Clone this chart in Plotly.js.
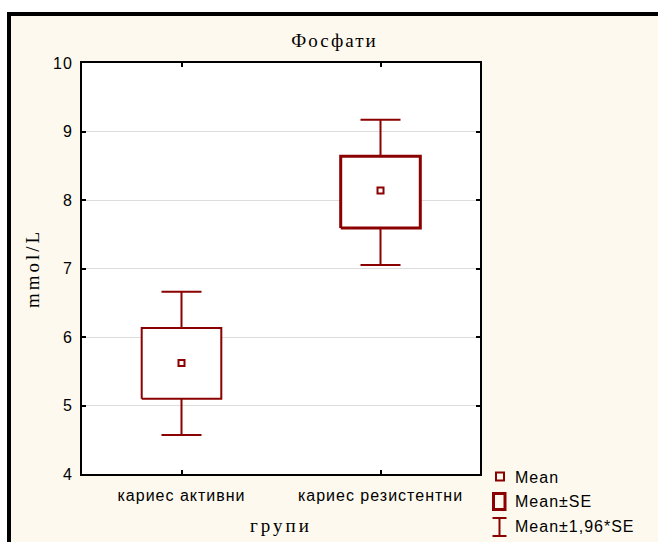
<!DOCTYPE html>
<html>
<head>
<meta charset="utf-8">
<script src="https://cdn.plot.ly/plotly-3.0.1.min.js"></script>
<style>
  html, body { margin: 0; padding: 0; background: #ffffff; overflow: hidden; }
  #frame { position: absolute; left: 7px; top: 12px; width: 720px; height: 620px;
           background: #fdf9ee; border-left: 4px solid #000; border-top: 4px solid #000; }
  #chart { position: absolute; left: 0; top: 0; width: 658px; height: 542px; }
  svg text { letter-spacing: 1px; }
  .gtitle { letter-spacing: 2px !important; }
  .g-ytitle text, .g-xtitle text { letter-spacing: 3px !important; }
</style>
</head>
<body>
<div id="frame"></div>
<div id="chart"></div>
<script>
// ---- data ----
const categories = ['кариес активни', 'кариес резистентни'];
const means      = [5.62, 8.14];
const seLow      = [5.10, 7.59];   // Mean - SE
const seHigh     = [6.13, 8.64];   // Mean + SE
const ciLow      = [4.57, 7.05];   // Mean - 1,96*SE
const ciHigh     = [6.66, 9.17];   // Mean + 1,96*SE
const yTicks     = [4, 5, 6, 7, 8, 9, 10];
const legendLabels = ['Mean', 'Mean±SE', 'Mean±1,96*SE'];

// ---- styles / layout constants ----
const RED = '#8b0000';
const W = 658, H = 542;
const M = { l: 82, r: 178, t: 63, b: 68 };
const boxHalf = 0.2;
const boxLineWidths = [2, 3];
const px2x = px => (px - M.l) / (W - M.l - M.r);
const py2y = py => (H - M.b - py) / (H - M.t - M.b);

const xs = categories.map((c, i) => i);

const traces = [];
// whiskers (Mean ± 1,96*SE) as error bars
traces.push({
  type: 'scatter', mode: 'markers', x: xs, y: means,
  marker: { size: 1, opacity: 0 }, showlegend: false, hoverinfo: 'skip',
  error_y: { type: 'data', symmetric: false,
             array: ciHigh.map((v, i) => v - means[i]),
             arrayminus: ciLow.map((v, i) => means[i] - v),
             color: RED, thickness: 2, width: 20 }
});
// boxes (Mean ± SE)
xs.forEach((x, i) => {
  traces.push({
    type: 'scatter', mode: 'lines', fill: 'toself', fillcolor: '#ffffff',
    x: [x - boxHalf, x + boxHalf, x + boxHalf, x - boxHalf, x - boxHalf],
    y: [seLow[i], seLow[i], seHigh[i], seHigh[i], seLow[i]],
    line: { color: RED, width: boxLineWidths[i] }, showlegend: false, hoverinfo: 'skip'
  });
});
// means
traces.push({
  type: 'scatter', mode: 'markers', x: xs, y: means, showlegend: false,
  marker: { symbol: 'square-open', size: 6, color: RED, line: { width: 2, color: RED } }
});

// custom legend
const shapes = [
  { type: 'rect', xref: 'paper', yref: 'paper', x0: px2x(496), x1: px2x(504), y0: py2y(472.5), y1: py2y(480.5),
    line: { color: RED, width: 2 }, fillcolor: 'rgba(0,0,0,0)' },
  { type: 'rect', xref: 'paper', yref: 'paper', x0: px2x(493.5), x1: px2x(505), y0: py2y(493.5), y1: py2y(509.5),
    line: { color: RED, width: 3 }, fillcolor: 'rgba(0,0,0,0)' },
  { type: 'line', xref: 'paper', yref: 'paper', x0: px2x(499.5), x1: px2x(499.5), y0: py2y(518), y1: py2y(536),
    line: { color: RED, width: 2 } },
  { type: 'line', xref: 'paper', yref: 'paper', x0: px2x(492.5), x1: px2x(506.5), y0: py2y(518), y1: py2y(518),
    line: { color: RED, width: 2 } },
  { type: 'line', xref: 'paper', yref: 'paper', x0: px2x(492.5), x1: px2x(506.5), y0: py2y(536), y1: py2y(536),
    line: { color: RED, width: 2 } }
];
const legendY = [477, 502, 526];
const annotations = legendLabels.map((t, i) => ({
  text: t, xref: 'paper', yref: 'paper', x: px2x(513), y: py2y(legendY[i]),
  xanchor: 'left', yanchor: 'middle', showarrow: false,
  font: { family: 'Liberation Sans, Arial, sans-serif', size: 16, color: '#000' }
}));

const sans = { family: 'Liberation Sans, Arial, sans-serif', size: 16, color: '#000' };
const serif = 'Liberation Serif, Times New Roman, serif';

const layout = {
  width: W, height: H, margin: M,
  paper_bgcolor: 'rgba(0,0,0,0)', plot_bgcolor: '#ffffff',
  showlegend: false,
  title: { text: 'Фосфати', x: 334.5 / W, xref: 'container', xanchor: 'center',
           y: 1 - 40 / H, yref: 'container', yanchor: 'middle',
           font: { family: serif, size: 19, color: '#000' } },
  xaxis: {
    range: [-0.5, 1.5], tickvals: xs, ticktext: categories,
    showgrid: false, zeroline: false,
    showline: true, linecolor: '#000', linewidth: 2, mirror: 'ticks',
    ticks: 'inside', ticklen: 4, tickwidth: 2, tickcolor: '#000',
    tickfont: sans, ticklabelstandoff: 6,
    title: { text: 'групи', font: { family: serif, size: 19, color: '#000' }, standoff: 15 }
  },
  yaxis: {
    range: [4, 10], tickvals: yTicks, ticktext: yTicks.map(String),
    showgrid: true, gridcolor: '#dcdcdc', gridwidth: 1, zeroline: false,
    showline: true, linecolor: '#000', linewidth: 2, mirror: 'ticks',
    ticks: 'inside', ticklen: 4, tickwidth: 2, tickcolor: '#000',
    tickfont: sans, ticklabelstandoff: 4,
    title: { text: 'mmol/L', font: { family: serif, size: 19, color: '#000' }, standoff: 8 }
  },
  shapes: shapes,
  annotations: annotations
};

Plotly.newPlot('chart', traces, layout, { displayModeBar: false, staticPlot: true });
</script>
</body>
</html>
